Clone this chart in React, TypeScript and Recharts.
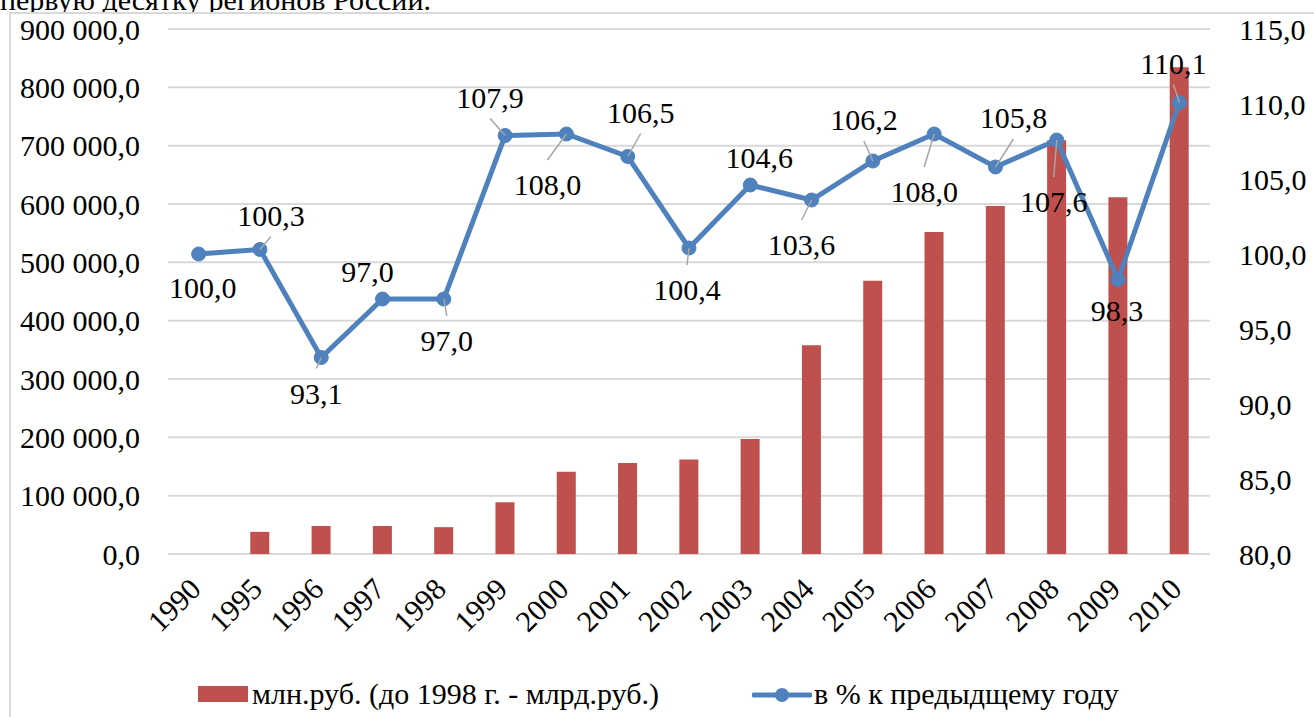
import React from 'react';
import { ComposedChart, Bar, Line, XAxis, YAxis, CartesianGrid, Legend, LabelList } from 'recharts';

const years = ['1990', '1995', '1996', '1997', '1998', '1999', '2000', '2001', '2002', '2003', '2004', '2005', '2006', '2007', '2008', '2009', '2010'];
const volumeValues: (number | null)[] = [null, 38000, 48000, 48000, 46000, 88600, 141000, 156000, 162000, 197000, 358000, 468500, 552000, 596500, 709500, 611500, 834500];
const growthValues = [100.0, 100.3, 93.1, 97.0, 97.0, 107.9, 108.0, 106.5, 100.4, 104.6, 103.6, 106.2, 108.0, 105.8, 107.6, 98.3, 110.1];
const leftTicks = [0, 100000, 200000, 300000, 400000, 500000, 600000, 700000, 800000, 900000];
const rightTicks = [80, 85, 90, 95, 100, 105, 110, 115];
const barName = 'млн.руб. (до 1998 г. - млрд.руб.)';
const lineName = 'в % к предыдщему году';
const captionText = 'первую десятку регионов России.';

// label placement relative to each point: [dx, dy, leader line]
const labelOffsets: [number, number, boolean][] = [
  [4, 34, false], [11, -34, true], [-5, 36, true], [-15, -27, false], [3, 42, true],
  [-15, -38, true], [-19, 51, true], [13, -44, true], [-2, 42, true], [9, -27, false],
  [-10, 45, true], [-9, -41, true], [-10, 58, true], [18, -49, true], [-3, 62, true],
  [-1, 31, false], [-6, -39, true],
];

const data = years.map((year, i) => ({ year, volume: volumeValues[i], growth: growthValues[i] }));

const FONT = '"Liberation Serif", "Times New Roman", serif';
const BAR_COLOR = '#C0504D';
const LINE_COLOR = '#4F81BD';

function fmtLeft(v: number) {
  return Math.round(v).toString().replace(/\B(?=(\d{3})+(?!\d))/g, ' ') + ',0';
}
function fmtRight(v: number) {
  return Number(v).toFixed(1).replace('.', ',');
}

const XTick = (props: any) => {
  const { x, y, payload } = props;
  const tx = x + 4;
  const ty = y + 37;
  return (
    <text x={tx} y={ty} transform={`rotate(-45 ${tx} ${ty})`} textAnchor="end" fontSize={30} fontFamily={FONT} fill="#000">
      {payload.value}
    </text>
  );
};

const GrowthLabel = (props: any) => {
  const { x, y, value, index } = props;
  const off = labelOffsets[index];
  if (!off) return null;
  const [dx, dy, leader] = off;
  const lx = x + dx;
  const ly = y + dy;
  return (
    <g>
      {leader && (
        <line x1={x} y1={y} x2={lx} y2={ly + (dy < 0 ? 21 : -25)} stroke="#a6a6a6" strokeWidth={1.5} />
      )}
      <text x={lx} y={ly + 10} textAnchor="middle" fontSize={30} fontFamily={FONT} fill="#000">
        {fmtRight(value)}
      </text>
    </g>
  );
};

const LegendContent = () => (
  <div style={{ position: 'relative', width: 1314, height: 44, fontFamily: FONT, fontSize: 30, color: '#000' }}>
    <div style={{ position: 'absolute', left: 198, top: 13, width: 50, height: 16, background: BAR_COLOR }} />
    <span style={{ position: 'absolute', left: 252, top: 4, lineHeight: '34px', whiteSpace: 'nowrap' }}>{barName}</span>
    <svg style={{ position: 'absolute', left: 752, top: 12 }} width={60} height={20}>
      <line x1={2} y1={10} x2={58} y2={10} stroke={LINE_COLOR} strokeWidth={5} strokeLinecap="round" />
      <circle cx={30} cy={10} r={7} fill={LINE_COLOR} />
    </svg>
    <span style={{ position: 'absolute', left: 814, top: 4, lineHeight: '34px', whiteSpace: 'nowrap' }}>{lineName}</span>
  </div>
);

export default function App() {
  return (
    <div style={{ position: 'fixed', left: 0, top: 0, width: 1314, height: 717, overflow: 'hidden', background: '#fff' }}>
      <div style={{ position: 'absolute', left: 0, top: -15, fontFamily: FONT, fontSize: 30, lineHeight: '30px', whiteSpace: 'nowrap', color: '#000' }}>
        {captionText}
      </div>
      <div style={{ position: 'absolute', left: 9, top: 12, width: 1320, height: 720, border: '2px solid #d9d9d9', background: '#fff' }} />
      <div style={{ position: 'absolute', left: 0, top: 0 }}>
        <ComposedChart width={1314} height={717} data={data} margin={{ top: 29, right: 0, bottom: 0, left: 0 }}>
          <CartesianGrid yAxisId="left" vertical={false} stroke="#d9d9d9" strokeWidth={2} />
          <XAxis dataKey="year" interval={0} tickLine={false} axisLine={false} height={119} tickSize={0} tickMargin={0} tick={<XTick />} />
          <YAxis
            yAxisId="left"
            orientation="left"
            width={168}
            domain={[0, 900000]}
            ticks={leftTicks}
            tickFormatter={fmtLeft}
            axisLine={false}
            tickLine={false}
            tickSize={0}
            tickMargin={28}
            tick={{ fontSize: 30, fontFamily: FONT, fill: '#000' }}
          />
          <YAxis
            yAxisId="right"
            orientation="right"
            width={104}
            domain={[80, 115]}
            ticks={rightTicks}
            tickFormatter={fmtRight}
            axisLine={false}
            tickLine={false}
            tickSize={0}
            tickMargin={29}
            tick={{ fontSize: 30, fontFamily: FONT, fill: '#000' }}
          />
          <Legend
            verticalAlign="bottom"
            content={<LegendContent />}
            wrapperStyle={{ position: 'absolute', left: 0, bottom: 0, width: 1314, height: 44 }}
          />
          <Bar yAxisId="left" dataKey="volume" name={barName} fill={BAR_COLOR} barSize={19} isAnimationActive={false} />
          <Line
            yAxisId="right"
            dataKey="growth"
            name={lineName}
            stroke={LINE_COLOR}
            strokeWidth={5}
            dot={{ r: 7, fill: LINE_COLOR, stroke: LINE_COLOR, strokeWidth: 1 }}
            activeDot={false}
            isAnimationActive={false}
          >
            <LabelList dataKey="growth" content={<GrowthLabel />} />
          </Line>
        </ComposedChart>
      </div>
    </div>
  );
}
